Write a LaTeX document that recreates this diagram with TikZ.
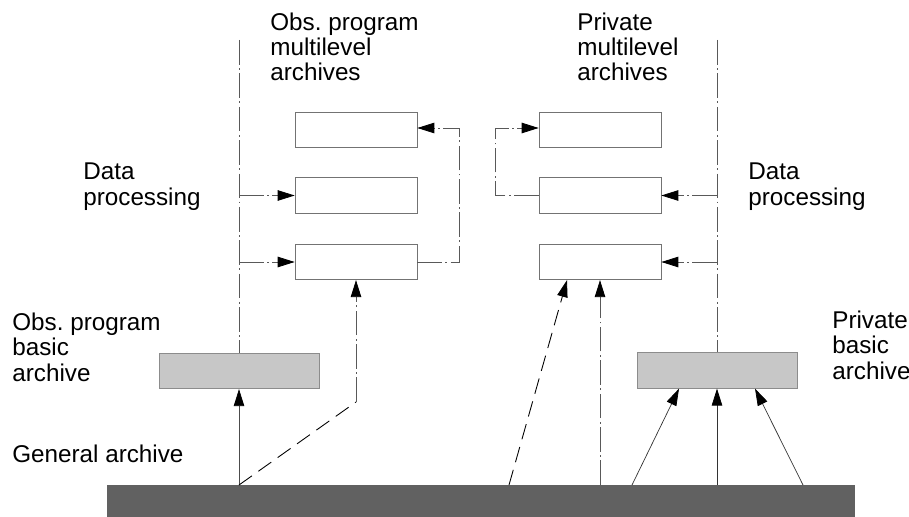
\documentclass[tikz,border=0pt]{standalone}
\usepackage{fontspec}
\setmainfont{Liberation Sans}
\usepackage{tikz}
\usetikzlibrary{arrows.meta,calc,positioning}

\begin{document}
\begin{tikzpicture}[x=0.02cm,y=-0.02cm]
	\tikzstyle{mbox}=[rectangle, draw=black!55, line width=0.4pt, fill=white, minimum width=2.44cm, minimum height=0.71cm, inner sep=0pt]
	\tikzstyle{bbox}=[rectangle, draw=black!45, fill=black!22, minimum width=3.2cm, minimum height=0.71cm, inner sep=0pt]
	\tikzstyle{lbl}=[anchor=base west, align=left, inner sep=0pt, font=\fontsize{13.8}{14.4}\selectfont]
	\tikzstyle{dproc}=[black!65, line width=0.45pt, dash pattern=on 14pt off 2pt on 1pt off 2pt]
	\tikzstyle{feed}=[black, line width=0.5pt, dash pattern=on 9pt off 4.5pt]
	\tikzstyle{tip}=[-{Triangle[length=3.4mm,width=2.1mm,color=black]}]
	\useasboundingbox (0,0) rectangle (909,517);
	% general archive
	\node[rectangle, fill=black!62, minimum width=14.96cm, minimum height=0.64cm, inner sep=0pt] (gen) at (481,501) {};
	% multilevel archives
	\node[mbox] (lt) at (356,130) {};
	\node[mbox] (lm) at (356,195.5) {};
	\node[mbox] (lb) at (356,262) {};
	\node[mbox] (rt) at (600,130) {};
	\node[mbox] (rm) at (600,195.5) {};
	\node[mbox] (rb) at (600,262) {};
	% basic archives
	\node[bbox] (lbasic) at (239,371) {};
	\node[bbox] (rbasic) at (717,370.5) {};
	% labels
	\node[lbl] (obsmulti) at (270,81) {Obs.\ program\\multilevel\\archives};
	\node[lbl] (privmulti) at (577,81) {Private\\multilevel\\archives};
	\node[lbl] (dpleft) at (83,205) {Data\\processing};
	\node[lbl] (dpright) at (748,205) {Data\\processing};
	\node[lbl] (obsbasic) at (12,381) {Obs.\ program\\basic\\archive};
	\node[lbl] (privbasic) at (832,379) {Private\\basic\\archive};
	\node[lbl] (genlbl) at (12,462) {General archive};
	% data processing lines
	\coordinate (ltop) at (239,40);
	\coordinate (rtop) at (717,40);
	\draw[dproc] (ltop) -- (lbasic.north);
	\draw[dproc] (rtop) -- (rbasic.north);
	\draw[dproc,tip] (ltop |- lm.west) -- (lm.west);
	\draw[dproc,tip] (ltop |- lb.west) -- (lb.west);
	\draw[dproc,tip] (rtop |- rm.east) -- (rm.east);
	\draw[dproc,tip] (rtop |- rb.east) -- (rb.east);
	% loops between levels
	\coordinate (lloop) at (459,128);
	\coordinate (rloop) at (495,128);
	\draw[dproc,tip] (lb.east) -| (lloop) -- (lloop -| lt.east);
	\draw[dproc,tip] (rm.west) -| (rloop) -- (rloop -| rt.west);
	% from general archive
	\coordinate (lfoot) at (239,485);
	\coordinate (lbend) at (356,402);
	\draw[black!70,line width=0.4pt,tip] (lfoot) -- (lbasic.south);
	\draw[feed] (lfoot) -- (lbend);
	\draw[dproc,tip] (lbend) -- (lb.south);
	\draw[feed,tip] (509,485) -- (lb.south -| 567,0);
	\draw[dproc,tip] (600,485) -- (rb.south);
	\draw[black!80,line width=0.4pt,tip] (632,485) -- (rbasic.south -| 679,0);
	\draw[black!80,line width=0.4pt,tip] (717,485) -- (rbasic.south);
	\draw[black!80,line width=0.4pt,tip] (803,485) -- (rbasic.south -| 755,0);
\end{tikzpicture}
\end{document}
